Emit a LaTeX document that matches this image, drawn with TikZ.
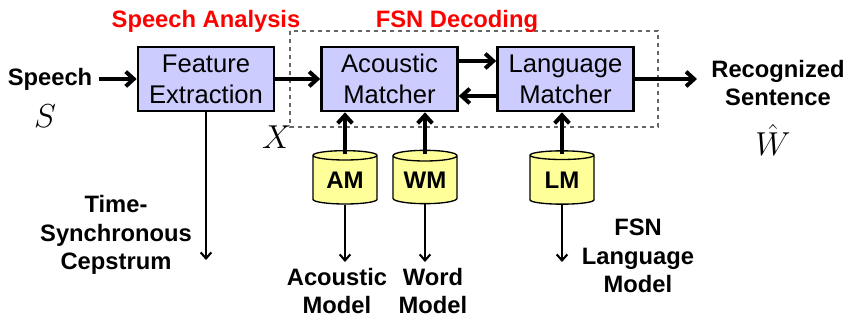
\documentclass[tikz,border=0pt]{standalone}
\usepackage[no-math]{fontspec}
\setmainfont{Liberation Sans}
\usetikzlibrary{arrows.meta,shapes.geometric,positioning}
\definecolor{boxfill}{RGB}{204,204,255}
\definecolor{dbfill}{RGB}{255,255,153}
\begin{document}
\begin{tikzpicture}[x=0.75pt, y=-0.75pt, >={Straight Barb[length=6pt,width=11pt]}]
		\tikzstyle{block} = [draw, line width=2pt, fill=boxfill, minimum width=102pt, minimum height=48pt, inner sep=0pt, align=center, font=\fontsize{19.2}{23.5}\selectfont]
		\tikzstyle{db} = [cylinder, shape border rotate=90, aspect=0.25, draw, line width=1pt, fill=dbfill, minimum width=48pt, minimum height=40pt, inner sep=0pt, font=\bfseries\fontsize{18}{20}\selectfont]
		\tikzstyle{label} = [align=center, inner sep=0pt, font=\bfseries\fontsize{17.8}{21.5}\selectfont]
		\tikzstyle{title} = [text=red, inner sep=0pt, font=\bfseries\fontsize{17.8}{20}\selectfont]
		\tikzstyle{sym} = [inner sep=0pt, font=\fontsize{23}{23}\selectfont]
		\tikzstyle{flow} = [->, line width=3pt]
		\tikzstyle{tap} = [->, line width=1.6pt, >={Straight Barb[length=4.5pt,width=8pt]}]
		
		\useasboundingbox (0,0) rectangle (847,321);
		
		% FSN decoding frame
		\draw[gray!80!black, dashed, line width=0.8pt] (290,31) rectangle (658,127);
		
		\node[title] (tana) at (206,21) {Speech Analysis};
		\node[title] (tdec) at (457,21) {FSN Decoding};
		
		\node[block] (fe) at (206,79) {Feature\\Extraction};
		\node[block] (am) at (389.5,79) {Acoustic\\Matcher};
		\node[block] (lm) at (565.5,79) {Language\\Matcher};
		
		\node[db] (amdb) at (345,180) {AM};
		\node[db] (wmdb) at (425,180) {WM};
		\node[db] (lmdb) at (562,180) {LM};
		
		\node[label] (speech) at (50,79) {Speech};
		\node[sym] (s) at (45,116) {$S$};
		\node[sym] (x) at (277,137) {$X$};
		\node[label] (rec) at (778,83) {Recognized\\Sentence};
		\node[sym] (w) at (773,140) {$\hat{W}$};
		\node[label] (cep) at (116,235) {Time-\\Synchronous\\Cepstrum};
		\node[label] (amlab) at (337,291) {Acoustic\\Model};
		\node[label] (wmlab) at (433,291) {Word\\Model};
		\node[label] (lmlab) at (638,256) {FSN\\Language\\Model};
		
		\coordinate (out) at (697,79);
		\coordinate (feout) at (206,260);
		\coordinate (amout) at (345,262);
		\coordinate (wmout) at (425,262);
		\coordinate (lmout) at (562,262);
		
		\draw[flow] ([xshift=5pt]speech.east) -- (fe.west);
		\draw[flow] (fe) -- (am);
		\draw[flow] ([yshift=13.5pt]am.east) -- ([yshift=13.5pt]lm.west);
		\draw[flow] ([yshift=-12.75pt]lm.west) -- ([yshift=-12.75pt]am.east);
		\draw[flow] (lm) -- (out);
		
		\draw[flow] ([yshift=-3pt]amdb.north) -- (amdb.north |- am.south);
		\draw[flow] ([yshift=-3pt]wmdb.north) -- (wmdb.north |- am.south);
		\draw[flow] ([yshift=-3pt]lmdb.north) -- (lmdb.north |- lm.south);
		
		\draw[tap] (fe) -- (feout);
		\draw[tap] (amdb) -- (amout);
		\draw[tap] (wmdb) -- (wmout);
		\draw[tap] (lmdb) -- (lmout);
	\end{tikzpicture}
\end{document}
